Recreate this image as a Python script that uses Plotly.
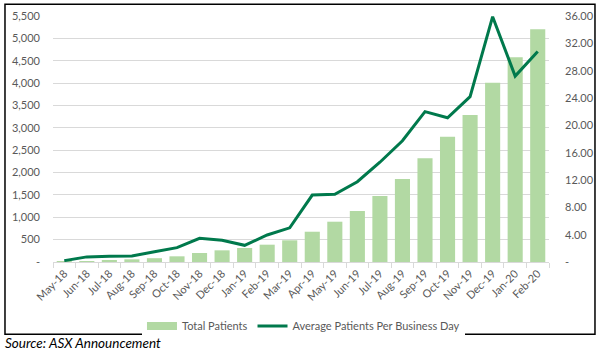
import plotly.graph_objects as go

months = ["May-18", "Jun-18", "Jul-18", "Aug-18", "Sep-18", "Oct-18", "Nov-18", "Dec-18",
          "Jan-19", "Feb-19", "Mar-19", "Apr-19", "May-19", "Jun-19", "Jul-19", "Aug-19",
          "Sep-19", "Oct-19", "Nov-19", "Dec-19", "Jan-20", "Feb-20"]
total_patients = [5, 20, 45, 60, 85, 127, 201, 261, 313, 387, 485, 677, 901, 1140, 1476,
                  1856, 2318, 2802, 3287, 4009, 4576, 5202]
avg_per_day = [0.2, 0.75, 0.83, 0.88, 1.5, 2.1, 3.46, 3.17, 2.44, 3.95, 5.0, 9.8, 9.9,
               11.75, 14.6, 17.75, 22.0, 21.1, 24.2, 35.9, 27.2, 30.8]

left_vals = list(range(0, 5501, 500))
left_text = ["-"] + [f"{v:,}" for v in left_vals[1:]]
right_vals = list(range(0, 37, 4))
right_text = ["-"] + [f"{v:.2f}" for v in right_vals[1:]]

FONT = "Lato"
GREY = "#595959"
BAR_COLOR = "#b2d9a3"
LINE_COLOR = "#00794c"

fig = go.Figure()
fig.add_trace(go.Bar(x=months, y=total_patients, name="Total Patients", showlegend=False,
                     marker=dict(color=BAR_COLOR, line=dict(width=0))))
# legend proxy for the bar series (wide flat swatch like the original)
fig.add_trace(go.Scatter(x=[None], y=[None], name="Total Patients", mode="lines",
                         line=dict(color=BAR_COLOR, width=8), showlegend=True))
fig.add_trace(go.Scatter(x=months, y=avg_per_day, name="Average Patients Per Business Day",
                         yaxis="y2", mode="lines",
                         line=dict(color=LINE_COLOR, width=3)))

fig.update_layout(
    width=601, height=355,
    margin=dict(l=53, r=52, t=16, b=93, autoexpand=False),
    paper_bgcolor="white", plot_bgcolor="white",
    font=dict(family=FONT, size=11, color=GREY),
    bargap=0.33,
    showlegend=True,
    legend=dict(orientation="h", x=0.505, xanchor="center", y=-0.26, yanchor="middle",
                font=dict(family=FONT, size=11, color=GREY), traceorder="normal",
                itemwidth=30, tracegroupgap=0),
    xaxis=dict(type="category", tickangle=-45, showgrid=False, showline=True,
               linecolor="#d9d9d9", linewidth=1, ticks="outside", tickson="boundaries",
               ticklen=5, tickcolor="#d9d9d9", tickfont=dict(size=11, color=GREY),
               automargin=False),
    yaxis=dict(range=[0, 5500], tickvals=left_vals, ticktext=left_text,
               showgrid=True, gridcolor="#d9d9d9", gridwidth=1, zeroline=False,
               showline=False, ticks="", ticklabelstandoff=12,
               tickfont=dict(size=11, color=GREY), automargin=False),
    yaxis2=dict(range=[0, 36], tickvals=right_vals, ticktext=right_text, overlaying="y",
                side="right", showgrid=False, zeroline=False, showline=False,
                ticks="", ticklabelstandoff=15, tickfont=dict(size=11, color=GREY),
                automargin=False),
    shapes=[dict(type="rect", xref="paper", yref="paper",
                 x0=-0.0968, x1=1.0927, y0=-0.2938, y1=1.0474,
                 line=dict(color="black", width=1.5), fillcolor="rgba(0,0,0,0)",
                 layer="above")],
    annotations=[dict(text="<i>Source: ASX Announcement</i>", xref="paper", yref="paper",
                      x=-0.1, y=-0.329, xanchor="left", yanchor="middle", showarrow=False,
                      font=dict(family=FONT, size=13.5, color="black"))],
)

fig.write_html("out.html", config={"displayModeBar": False},
               post_script="document.body.style.margin='0px';")
